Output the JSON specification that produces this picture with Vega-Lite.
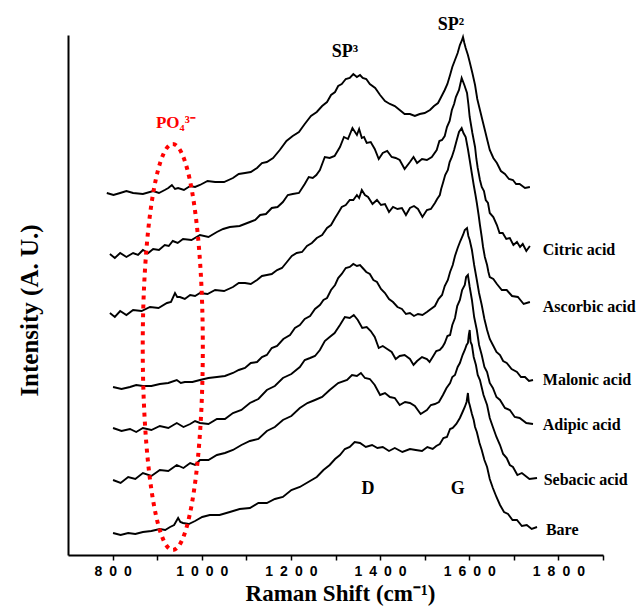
{
  "$schema": "https://vega.github.io/schema/vega-lite/v6.json",
  "autosize": "none",
  "width": 535,
  "height": 520,
  "padding": {"left": 68, "top": 35, "right": 38, "bottom": 51},
  "background": "white",
  "config": {"view": {"stroke": null}},
  "datasets": {
    "spectra": [
      {"curve":"Top","shift":787,"y":362},{"curve":"Top","shift":802,"y":360},{"curve":"Top","shift":817,"y":362},{"curve":"Top","shift":831,"y":364},{"curve":"Top","shift":846,"y":362},{"curve":"Top","shift":868,"y":361},{"curve":"Top","shift":891,"y":364},{"curve":"Top","shift":904,"y":362},{"curve":"Top","shift":917,"y":365},{"curve":"Top","shift":925,"y":367},{"curve":"Top","shift":933,"y":370},{"curve":"Top","shift":940,"y":366},{"curve":"Top","shift":947,"y":367},{"curve":"Top","shift":960,"y":365},{"curve":"Top","shift":974,"y":369},{"curve":"Top","shift":985,"y":368},{"curve":"Top","shift":996,"y":370},{"curve":"Top","shift":1013,"y":374},{"curve":"Top","shift":1030,"y":373},{"curve":"Top","shift":1050,"y":373},{"curve":"Top","shift":1070,"y":377},{"curve":"Top","shift":1083,"y":381},{"curve":"Top","shift":1097,"y":382},{"curve":"Top","shift":1110,"y":383},{"curve":"Top","shift":1124,"y":387},{"curve":"Top","shift":1135,"y":392},{"curve":"Top","shift":1146,"y":393},{"curve":"Top","shift":1160,"y":397},{"curve":"Top","shift":1175,"y":405},{"curve":"Top","shift":1190,"y":414},{"curve":"Top","shift":1204,"y":419},{"curve":"Top","shift":1218,"y":423},{"curve":"Top","shift":1231,"y":431},{"curve":"Top","shift":1245,"y":439},{"curve":"Top","shift":1258,"y":443},{"curve":"Top","shift":1270,"y":449},{"curve":"Top","shift":1281,"y":453},{"curve":"Top","shift":1290,"y":460},{"curve":"Top","shift":1299,"y":463},{"curve":"Top","shift":1306,"y":469},{"curve":"Top","shift":1314,"y":471},{"curve":"Top","shift":1323,"y":476},{"curve":"Top","shift":1332,"y":477},{"curve":"Top","shift":1340,"y":481},{"curve":"Top","shift":1348,"y":478},{"curve":"Top","shift":1355,"y":480},{"curve":"Top","shift":1361,"y":477},{"curve":"Top","shift":1369,"y":476},{"curve":"Top","shift":1377,"y":471},{"curve":"Top","shift":1389,"y":467},{"curve":"Top","shift":1400,"y":460},{"curve":"Top","shift":1411,"y":454},{"curve":"Top","shift":1422,"y":451},{"curve":"Top","shift":1433,"y":449},{"curve":"Top","shift":1444,"y":445},{"curve":"Top","shift":1455,"y":441},{"curve":"Top","shift":1467,"y":441},{"curve":"Top","shift":1478,"y":439},{"curve":"Top","shift":1489,"y":441},{"curve":"Top","shift":1500,"y":442},{"curve":"Top","shift":1512,"y":445},{"curve":"Top","shift":1521,"y":449},{"curve":"Top","shift":1530,"y":452},{"curve":"Top","shift":1537,"y":458},{"curve":"Top","shift":1545,"y":465},{"curve":"Top","shift":1551,"y":471},{"curve":"Top","shift":1557,"y":480},{"curve":"Top","shift":1562,"y":488},{"curve":"Top","shift":1568,"y":495},{"curve":"Top","shift":1574,"y":502},{"curve":"Top","shift":1579,"y":510},{"curve":"Top","shift":1583,"y":514},{"curve":"Top","shift":1586,"y":518},{"curve":"Top","shift":1589,"y":512},{"curve":"Top","shift":1592,"y":507},{"curve":"Top","shift":1597,"y":500},{"curve":"Top","shift":1601,"y":493},{"curve":"Top","shift":1607,"y":482},{"curve":"Top","shift":1613,"y":470},{"curve":"Top","shift":1618,"y":456},{"curve":"Top","shift":1624,"y":445},{"curve":"Top","shift":1630,"y":434},{"curve":"Top","shift":1635,"y":425},{"curve":"Top","shift":1641,"y":414},{"curve":"Top","shift":1646,"y":405},{"curve":"Top","shift":1654,"y":397},{"curve":"Top","shift":1662,"y":392},{"curve":"Top","shift":1671,"y":384},{"curve":"Top","shift":1680,"y":381},{"curve":"Top","shift":1689,"y":376},{"curve":"Top","shift":1698,"y":375},{"curve":"Top","shift":1705,"y":371},{"curve":"Top","shift":1713,"y":371},{"curve":"Top","shift":1725,"y":367},{"curve":"Top","shift":1736,"y":368},

      {"curve":"Citric","shift":794,"y":301},{"curve":"Citric","shift":805,"y":297},{"curve":"Citric","shift":817,"y":302},{"curve":"Citric","shift":831,"y":298},{"curve":"Citric","shift":846,"y":302},{"curve":"Citric","shift":857,"y":300},{"curve":"Citric","shift":868,"y":305},{"curve":"Citric","shift":880,"y":302},{"curve":"Citric","shift":891,"y":306},{"curve":"Citric","shift":904,"y":305},{"curve":"Citric","shift":917,"y":310},{"curve":"Citric","shift":926,"y":309},{"curve":"Citric","shift":935,"y":314},{"curve":"Citric","shift":946,"y":312},{"curve":"Citric","shift":958,"y":316},{"curve":"Citric","shift":977,"y":315},{"curve":"Citric","shift":996,"y":320},{"curve":"Citric","shift":1015,"y":318},{"curve":"Citric","shift":1034,"y":323},{"curve":"Citric","shift":1048,"y":326},{"curve":"Citric","shift":1063,"y":328},{"curve":"Citric","shift":1085,"y":329},{"curve":"Citric","shift":1108,"y":333},{"curve":"Citric","shift":1120,"y":335},{"curve":"Citric","shift":1131,"y":340},{"curve":"Citric","shift":1144,"y":341},{"curve":"Citric","shift":1157,"y":347},{"curve":"Citric","shift":1170,"y":348},{"curve":"Citric","shift":1182,"y":353},{"curve":"Citric","shift":1193,"y":360},{"curve":"Citric","shift":1204,"y":361},{"curve":"Citric","shift":1218,"y":362},{"curve":"Citric","shift":1231,"y":371},{"curve":"Citric","shift":1240,"y":378},{"curve":"Citric","shift":1249,"y":377},{"curve":"Citric","shift":1257,"y":380},{"curve":"Citric","shift":1265,"y":385},{"curve":"Citric","shift":1276,"y":398},{"curve":"Citric","shift":1287,"y":397},{"curve":"Citric","shift":1298,"y":399},{"curve":"Citric","shift":1310,"y":408},{"curve":"Citric","shift":1319,"y":418},{"curve":"Citric","shift":1328,"y":416},{"curve":"Citric","shift":1338,"y":427},{"curve":"Citric","shift":1348,"y":420},{"curve":"Citric","shift":1353,"y":426},{"curve":"Citric","shift":1359,"y":417},{"curve":"Citric","shift":1364,"y":418},{"curve":"Citric","shift":1370,"y":412},{"curve":"Citric","shift":1379,"y":413},{"curve":"Citric","shift":1388,"y":406},{"curve":"Citric","shift":1397,"y":396},{"curve":"Citric","shift":1406,"y":402},{"curve":"Citric","shift":1416,"y":404},{"curve":"Citric","shift":1426,"y":398},{"curve":"Citric","shift":1435,"y":397},{"curve":"Citric","shift":1444,"y":395},{"curve":"Citric","shift":1455,"y":386},{"curve":"Citric","shift":1467,"y":393},{"curve":"Citric","shift":1475,"y":398},{"curve":"Citric","shift":1483,"y":392},{"curve":"Citric","shift":1494,"y":396},{"curve":"Citric","shift":1505,"y":395},{"curve":"Citric","shift":1516,"y":398},{"curve":"Citric","shift":1527,"y":405},{"curve":"Citric","shift":1533,"y":414},{"curve":"Citric","shift":1539,"y":415},{"curve":"Citric","shift":1545,"y":419},{"curve":"Citric","shift":1550,"y":428},{"curve":"Citric","shift":1556,"y":434},{"curve":"Citric","shift":1561,"y":445},{"curve":"Citric","shift":1566,"y":451},{"curve":"Citric","shift":1570,"y":458},{"curve":"Citric","shift":1577,"y":465},{"curve":"Citric","shift":1583,"y":477},{"curve":"Citric","shift":1589,"y":470},{"curve":"Citric","shift":1595,"y":462},{"curve":"Citric","shift":1598,"y":451},{"curve":"Citric","shift":1601,"y":438},{"curve":"Citric","shift":1607,"y":422},{"curve":"Citric","shift":1613,"y":408},{"curve":"Citric","shift":1616,"y":396},{"curve":"Citric","shift":1619,"y":387},{"curve":"Citric","shift":1624,"y":375},{"curve":"Citric","shift":1628,"y":368},{"curve":"Citric","shift":1633,"y":364},{"curve":"Citric","shift":1637,"y":355},{"curve":"Citric","shift":1642,"y":352},{"curve":"Citric","shift":1646,"y":342},{"curve":"Citric","shift":1654,"y":338},{"curve":"Citric","shift":1662,"y":330},{"curve":"Citric","shift":1668,"y":322},{"curve":"Citric","shift":1675,"y":322},{"curve":"Citric","shift":1683,"y":316},{"curve":"Citric","shift":1691,"y":317},{"curve":"Citric","shift":1699,"y":310},{"curve":"Citric","shift":1707,"y":313},{"curve":"Citric","shift":1714,"y":308},{"curve":"Citric","shift":1720,"y":311},{"curve":"Citric","shift":1728,"y":304},{"curve":"Citric","shift":1736,"y":309},

      {"curve":"Ascorbic","shift":794,"y":242},{"curve":"Ascorbic","shift":805,"y":238},{"curve":"Ascorbic","shift":817,"y":244},{"curve":"Ascorbic","shift":831,"y":240},{"curve":"Ascorbic","shift":846,"y":245},{"curve":"Ascorbic","shift":865,"y":244},{"curve":"Ascorbic","shift":884,"y":248},{"curve":"Ascorbic","shift":903,"y":247},{"curve":"Ascorbic","shift":922,"y":252},{"curve":"Ascorbic","shift":931,"y":253},{"curve":"Ascorbic","shift":940,"y":262},{"curve":"Ascorbic","shift":945,"y":258},{"curve":"Ascorbic","shift":951,"y":258},{"curve":"Ascorbic","shift":962,"y":256},{"curve":"Ascorbic","shift":974,"y":260},{"curve":"Ascorbic","shift":985,"y":259},{"curve":"Ascorbic","shift":996,"y":262},{"curve":"Ascorbic","shift":1013,"y":261},{"curve":"Ascorbic","shift":1030,"y":265},{"curve":"Ascorbic","shift":1050,"y":264},{"curve":"Ascorbic","shift":1070,"y":268},{"curve":"Ascorbic","shift":1083,"y":272},{"curve":"Ascorbic","shift":1097,"y":272},{"curve":"Ascorbic","shift":1110,"y":271},{"curve":"Ascorbic","shift":1124,"y":275},{"curve":"Ascorbic","shift":1135,"y":279},{"curve":"Ascorbic","shift":1146,"y":280},{"curve":"Ascorbic","shift":1157,"y":281},{"curve":"Ascorbic","shift":1169,"y":285},{"curve":"Ascorbic","shift":1180,"y":287},{"curve":"Ascorbic","shift":1191,"y":293},{"curve":"Ascorbic","shift":1202,"y":299},{"curve":"Ascorbic","shift":1213,"y":302},{"curve":"Ascorbic","shift":1225,"y":303},{"curve":"Ascorbic","shift":1236,"y":309},{"curve":"Ascorbic","shift":1247,"y":312},{"curve":"Ascorbic","shift":1258,"y":317},{"curve":"Ascorbic","shift":1270,"y":320},{"curve":"Ascorbic","shift":1281,"y":327},{"curve":"Ascorbic","shift":1290,"y":330},{"curve":"Ascorbic","shift":1299,"y":337},{"curve":"Ascorbic","shift":1306,"y":342},{"curve":"Ascorbic","shift":1314,"y":348},{"curve":"Ascorbic","shift":1323,"y":350},{"curve":"Ascorbic","shift":1332,"y":355},{"curve":"Ascorbic","shift":1340,"y":355},{"curve":"Ascorbic","shift":1348,"y":360},{"curve":"Ascorbic","shift":1353,"y":357},{"curve":"Ascorbic","shift":1359,"y":365},{"curve":"Ascorbic","shift":1366,"y":360},{"curve":"Ascorbic","shift":1373,"y":358},{"curve":"Ascorbic","shift":1383,"y":351},{"curve":"Ascorbic","shift":1393,"y":355},{"curve":"Ascorbic","shift":1402,"y":350},{"curve":"Ascorbic","shift":1411,"y":351},{"curve":"Ascorbic","shift":1420,"y":343},{"curve":"Ascorbic","shift":1429,"y":348},{"curve":"Ascorbic","shift":1439,"y":346},{"curve":"Ascorbic","shift":1449,"y":347},{"curve":"Ascorbic","shift":1458,"y":340},{"curve":"Ascorbic","shift":1467,"y":347},{"curve":"Ascorbic","shift":1476,"y":349},{"curve":"Ascorbic","shift":1485,"y":346},{"curve":"Ascorbic","shift":1495,"y":338},{"curve":"Ascorbic","shift":1505,"y":345},{"curve":"Ascorbic","shift":1514,"y":346},{"curve":"Ascorbic","shift":1523,"y":352},{"curve":"Ascorbic","shift":1528,"y":356},{"curve":"Ascorbic","shift":1534,"y":360},{"curve":"Ascorbic","shift":1537,"y":366},{"curve":"Ascorbic","shift":1541,"y":372},{"curve":"Ascorbic","shift":1546,"y":380},{"curve":"Ascorbic","shift":1552,"y":385},{"curve":"Ascorbic","shift":1556,"y":393},{"curve":"Ascorbic","shift":1561,"y":398},{"curve":"Ascorbic","shift":1566,"y":405},{"curve":"Ascorbic","shift":1572,"y":415},{"curve":"Ascorbic","shift":1577,"y":423},{"curve":"Ascorbic","shift":1583,"y":427},{"curve":"Ascorbic","shift":1587,"y":422},{"curve":"Ascorbic","shift":1592,"y":418},{"curve":"Ascorbic","shift":1597,"y":406},{"curve":"Ascorbic","shift":1601,"y":395},{"curve":"Ascorbic","shift":1606,"y":381},{"curve":"Ascorbic","shift":1610,"y":370},{"curve":"Ascorbic","shift":1614,"y":360},{"curve":"Ascorbic","shift":1617,"y":352},{"curve":"Ascorbic","shift":1621,"y":340},{"curve":"Ascorbic","shift":1624,"y":330},{"curve":"Ascorbic","shift":1628,"y":318},{"curve":"Ascorbic","shift":1631,"y":308},{"curve":"Ascorbic","shift":1635,"y":298},{"curve":"Ascorbic","shift":1640,"y":290},{"curve":"Ascorbic","shift":1643,"y":283},{"curve":"Ascorbic","shift":1646,"y":278},{"curve":"Ascorbic","shift":1654,"y":276},{"curve":"Ascorbic","shift":1662,"y":271},{"curve":"Ascorbic","shift":1673,"y":265},{"curve":"Ascorbic","shift":1684,"y":265},{"curve":"Ascorbic","shift":1696,"y":259},{"curve":"Ascorbic","shift":1709,"y":258},{"curve":"Ascorbic","shift":1722,"y":251},{"curve":"Ascorbic","shift":1736,"y":253},

      {"curve":"Malonic","shift":801,"y":168},{"curve":"Malonic","shift":820,"y":166},{"curve":"Malonic","shift":839,"y":168},{"curve":"Malonic","shift":853,"y":170},{"curve":"Malonic","shift":868,"y":169},{"curve":"Malonic","shift":887,"y":169},{"curve":"Malonic","shift":906,"y":171},{"curve":"Malonic","shift":925,"y":172},{"curve":"Malonic","shift":944,"y":175},{"curve":"Malonic","shift":953,"y":172},{"curve":"Malonic","shift":962,"y":173},{"curve":"Malonic","shift":979,"y":173},{"curve":"Malonic","shift":996,"y":175},{"curve":"Malonic","shift":1015,"y":177},{"curve":"Malonic","shift":1034,"y":178},{"curve":"Malonic","shift":1052,"y":179},{"curve":"Malonic","shift":1070,"y":182},{"curve":"Malonic","shift":1083,"y":185},{"curve":"Malonic","shift":1097,"y":187},{"curve":"Malonic","shift":1110,"y":192},{"curve":"Malonic","shift":1124,"y":193},{"curve":"Malonic","shift":1135,"y":198},{"curve":"Malonic","shift":1146,"y":200},{"curve":"Malonic","shift":1157,"y":207},{"curve":"Malonic","shift":1169,"y":209},{"curve":"Malonic","shift":1183,"y":216},{"curve":"Malonic","shift":1198,"y":220},{"curve":"Malonic","shift":1209,"y":227},{"curve":"Malonic","shift":1220,"y":230},{"curve":"Malonic","shift":1231,"y":236},{"curve":"Malonic","shift":1243,"y":239},{"curve":"Malonic","shift":1254,"y":246},{"curve":"Malonic","shift":1265,"y":250},{"curve":"Malonic","shift":1273,"y":255},{"curve":"Malonic","shift":1281,"y":257},{"curve":"Malonic","shift":1290,"y":265},{"curve":"Malonic","shift":1299,"y":270},{"curve":"Malonic","shift":1306,"y":277},{"curve":"Malonic","shift":1314,"y":281},{"curve":"Malonic","shift":1323,"y":287},{"curve":"Malonic","shift":1332,"y":288},{"curve":"Malonic","shift":1340,"y":291},{"curve":"Malonic","shift":1348,"y":289},{"curve":"Malonic","shift":1355,"y":290},{"curve":"Malonic","shift":1361,"y":287},{"curve":"Malonic","shift":1369,"y":283},{"curve":"Malonic","shift":1377,"y":281},{"curve":"Malonic","shift":1385,"y":275},{"curve":"Malonic","shift":1393,"y":273},{"curve":"Malonic","shift":1402,"y":266},{"curve":"Malonic","shift":1411,"y":262},{"curve":"Malonic","shift":1420,"y":256},{"curve":"Malonic","shift":1429,"y":253},{"curve":"Malonic","shift":1439,"y":248},{"curve":"Malonic","shift":1449,"y":246},{"curve":"Malonic","shift":1458,"y":241},{"curve":"Malonic","shift":1467,"y":242},{"curve":"Malonic","shift":1476,"y":239},{"curve":"Malonic","shift":1485,"y":241},{"curve":"Malonic","shift":1495,"y":240},{"curve":"Malonic","shift":1505,"y":243},{"curve":"Malonic","shift":1514,"y":246},{"curve":"Malonic","shift":1523,"y":249},{"curve":"Malonic","shift":1531,"y":256},{"curve":"Malonic","shift":1539,"y":260},{"curve":"Malonic","shift":1545,"y":269},{"curve":"Malonic","shift":1552,"y":275},{"curve":"Malonic","shift":1557,"y":283},{"curve":"Malonic","shift":1563,"y":290},{"curve":"Malonic","shift":1568,"y":299},{"curve":"Malonic","shift":1574,"y":307},{"curve":"Malonic","shift":1580,"y":314},{"curve":"Malonic","shift":1586,"y":320},{"curve":"Malonic","shift":1590,"y":325},{"curve":"Malonic","shift":1595,"y":327},{"curve":"Malonic","shift":1598,"y":319},{"curve":"Malonic","shift":1601,"y":315},{"curve":"Malonic","shift":1606,"y":305},{"curve":"Malonic","shift":1611,"y":290},{"curve":"Malonic","shift":1617,"y":275},{"curve":"Malonic","shift":1622,"y":262},{"curve":"Malonic","shift":1628,"y":250},{"curve":"Malonic","shift":1634,"y":236},{"curve":"Malonic","shift":1640,"y":225},{"curve":"Malonic","shift":1646,"y":216},{"curve":"Malonic","shift":1653,"y":210},{"curve":"Malonic","shift":1661,"y":203},{"curve":"Malonic","shift":1669,"y":200},{"curve":"Malonic","shift":1676,"y":194},{"curve":"Malonic","shift":1684,"y":192},{"curve":"Malonic","shift":1695,"y":186},{"curve":"Malonic","shift":1707,"y":183},{"curve":"Malonic","shift":1716,"y":178},{"curve":"Malonic","shift":1725,"y":178},{"curve":"Malonic","shift":1734,"y":174},{"curve":"Malonic","shift":1743,"y":175},

      {"curve":"Adipic","shift":801,"y":127},{"curve":"Adipic","shift":820,"y":124},{"curve":"Adipic","shift":839,"y":126},{"curve":"Adipic","shift":853,"y":123},{"curve":"Adipic","shift":868,"y":127},{"curve":"Adipic","shift":887,"y":125},{"curve":"Adipic","shift":906,"y":129},{"curve":"Adipic","shift":925,"y":127},{"curve":"Adipic","shift":944,"y":132},{"curve":"Adipic","shift":959,"y":128},{"curve":"Adipic","shift":974,"y":131},{"curve":"Adipic","shift":985,"y":134},{"curve":"Adipic","shift":996,"y":132},{"curve":"Adipic","shift":1015,"y":131},{"curve":"Adipic","shift":1034,"y":136},{"curve":"Adipic","shift":1052,"y":136},{"curve":"Adipic","shift":1070,"y":142},{"curve":"Adipic","shift":1089,"y":145},{"curve":"Adipic","shift":1108,"y":152},{"curve":"Adipic","shift":1127,"y":156},{"curve":"Adipic","shift":1146,"y":165},{"curve":"Adipic","shift":1164,"y":169},{"curve":"Adipic","shift":1182,"y":177},{"curve":"Adipic","shift":1201,"y":181},{"curve":"Adipic","shift":1220,"y":188},{"curve":"Adipic","shift":1231,"y":195},{"curve":"Adipic","shift":1243,"y":197},{"curve":"Adipic","shift":1254,"y":199},{"curve":"Adipic","shift":1265,"y":205},{"curve":"Adipic","shift":1276,"y":214},{"curve":"Adipic","shift":1287,"y":218},{"curve":"Adipic","shift":1298,"y":222},{"curve":"Adipic","shift":1310,"y":230},{"curve":"Adipic","shift":1321,"y":238},{"curve":"Adipic","shift":1332,"y":237},{"curve":"Adipic","shift":1341,"y":240},{"curve":"Adipic","shift":1350,"y":235},{"curve":"Adipic","shift":1360,"y":227},{"curve":"Adipic","shift":1370,"y":228},{"curve":"Adipic","shift":1379,"y":224},{"curve":"Adipic","shift":1388,"y":218},{"curve":"Adipic","shift":1397,"y":207},{"curve":"Adipic","shift":1406,"y":209},{"curve":"Adipic","shift":1416,"y":206},{"curve":"Adipic","shift":1426,"y":203},{"curve":"Adipic","shift":1435,"y":196},{"curve":"Adipic","shift":1444,"y":199},{"curve":"Adipic","shift":1455,"y":200},{"curve":"Adipic","shift":1467,"y":196},{"curve":"Adipic","shift":1475,"y":190},{"curve":"Adipic","shift":1483,"y":194},{"curve":"Adipic","shift":1494,"y":198},{"curve":"Adipic","shift":1505,"y":196},{"curve":"Adipic","shift":1511,"y":193},{"curve":"Adipic","shift":1518,"y":198},{"curve":"Adipic","shift":1526,"y":204},{"curve":"Adipic","shift":1534,"y":205},{"curve":"Adipic","shift":1540,"y":208},{"curve":"Adipic","shift":1545,"y":212},{"curve":"Adipic","shift":1551,"y":219},{"curve":"Adipic","shift":1557,"y":220},{"curve":"Adipic","shift":1562,"y":230},{"curve":"Adipic","shift":1568,"y":237},{"curve":"Adipic","shift":1573,"y":249},{"curve":"Adipic","shift":1579,"y":255},{"curve":"Adipic","shift":1584,"y":265},{"curve":"Adipic","shift":1590,"y":270},{"curve":"Adipic","shift":1593,"y":278},{"curve":"Adipic","shift":1597,"y":280},{"curve":"Adipic","shift":1601,"y":268},{"curve":"Adipic","shift":1606,"y":255},{"curve":"Adipic","shift":1611,"y":238},{"curve":"Adipic","shift":1617,"y":225},{"curve":"Adipic","shift":1622,"y":210},{"curve":"Adipic","shift":1628,"y":200},{"curve":"Adipic","shift":1634,"y":188},{"curve":"Adipic","shift":1640,"y":183},{"curve":"Adipic","shift":1646,"y":172},{"curve":"Adipic","shift":1653,"y":167},{"curve":"Adipic","shift":1661,"y":158},{"curve":"Adipic","shift":1669,"y":155},{"curve":"Adipic","shift":1680,"y":147},{"curve":"Adipic","shift":1691,"y":145},{"curve":"Adipic","shift":1702,"y":138},{"curve":"Adipic","shift":1713,"y":137},{"curve":"Adipic","shift":1728,"y":132},{"curve":"Adipic","shift":1743,"y":131},

      {"curve":"Sebacic","shift":801,"y":75},{"curve":"Sebacic","shift":818,"y":72},{"curve":"Sebacic","shift":835,"y":78},{"curve":"Sebacic","shift":851,"y":76},{"curve":"Sebacic","shift":868,"y":82},{"curve":"Sebacic","shift":887,"y":79},{"curve":"Sebacic","shift":906,"y":85},{"curve":"Sebacic","shift":925,"y":84},{"curve":"Sebacic","shift":944,"y":90},{"curve":"Sebacic","shift":959,"y":87},{"curve":"Sebacic","shift":974,"y":92},{"curve":"Sebacic","shift":985,"y":90},{"curve":"Sebacic","shift":996,"y":95},{"curve":"Sebacic","shift":1015,"y":95},{"curve":"Sebacic","shift":1034,"y":100},{"curve":"Sebacic","shift":1052,"y":102},{"curve":"Sebacic","shift":1070,"y":105},{"curve":"Sebacic","shift":1089,"y":110},{"curve":"Sebacic","shift":1108,"y":114},{"curve":"Sebacic","shift":1127,"y":116},{"curve":"Sebacic","shift":1146,"y":124},{"curve":"Sebacic","shift":1164,"y":128},{"curve":"Sebacic","shift":1182,"y":135},{"curve":"Sebacic","shift":1201,"y":139},{"curve":"Sebacic","shift":1220,"y":147},{"curve":"Sebacic","shift":1237,"y":152},{"curve":"Sebacic","shift":1254,"y":155},{"curve":"Sebacic","shift":1270,"y":158},{"curve":"Sebacic","shift":1287,"y":165},{"curve":"Sebacic","shift":1306,"y":172},{"curve":"Sebacic","shift":1326,"y":175},{"curve":"Sebacic","shift":1337,"y":180},{"curve":"Sebacic","shift":1348,"y":179},{"curve":"Sebacic","shift":1357,"y":182},{"curve":"Sebacic","shift":1366,"y":177},{"curve":"Sebacic","shift":1377,"y":176},{"curve":"Sebacic","shift":1388,"y":170},{"curve":"Sebacic","shift":1400,"y":160},{"curve":"Sebacic","shift":1411,"y":162},{"curve":"Sebacic","shift":1422,"y":158},{"curve":"Sebacic","shift":1433,"y":157},{"curve":"Sebacic","shift":1444,"y":150},{"curve":"Sebacic","shift":1456,"y":153},{"curve":"Sebacic","shift":1467,"y":152},{"curve":"Sebacic","shift":1478,"y":149},{"curve":"Sebacic","shift":1491,"y":141},{"curve":"Sebacic","shift":1505,"y":145},{"curve":"Sebacic","shift":1514,"y":150},{"curve":"Sebacic","shift":1523,"y":151},{"curve":"Sebacic","shift":1532,"y":153},{"curve":"Sebacic","shift":1541,"y":160},{"curve":"Sebacic","shift":1549,"y":167},{"curve":"Sebacic","shift":1557,"y":172},{"curve":"Sebacic","shift":1562,"y":178},{"curve":"Sebacic","shift":1568,"y":180},{"curve":"Sebacic","shift":1574,"y":188},{"curve":"Sebacic","shift":1579,"y":192},{"curve":"Sebacic","shift":1585,"y":200},{"curve":"Sebacic","shift":1590,"y":205},{"curve":"Sebacic","shift":1594,"y":210},{"curve":"Sebacic","shift":1597,"y":212},{"curve":"Sebacic","shift":1599,"y":220},{"curve":"Sebacic","shift":1601,"y":225},{"curve":"Sebacic","shift":1603,"y":213},{"curve":"Sebacic","shift":1606,"y":210},{"curve":"Sebacic","shift":1610,"y":198},{"curve":"Sebacic","shift":1615,"y":190},{"curve":"Sebacic","shift":1619,"y":180},{"curve":"Sebacic","shift":1624,"y":175},{"curve":"Sebacic","shift":1632,"y":160},{"curve":"Sebacic","shift":1640,"y":150},{"curve":"Sebacic","shift":1646,"y":137},{"curve":"Sebacic","shift":1653,"y":128},{"curve":"Sebacic","shift":1661,"y":118},{"curve":"Sebacic","shift":1669,"y":110},{"curve":"Sebacic","shift":1676,"y":101},{"curve":"Sebacic","shift":1684,"y":97},{"curve":"Sebacic","shift":1691,"y":90},{"curve":"Sebacic","shift":1698,"y":88},{"curve":"Sebacic","shift":1708,"y":80},{"curve":"Sebacic","shift":1718,"y":82},{"curve":"Sebacic","shift":1735,"y":76},{"curve":"Sebacic","shift":1752,"y":77},

      {"curve":"Bare","shift":801,"y":22},{"curve":"Bare","shift":818,"y":20},{"curve":"Bare","shift":835,"y":22},{"curve":"Bare","shift":851,"y":21},{"curve":"Bare","shift":868,"y":23},{"curve":"Bare","shift":887,"y":24},{"curve":"Bare","shift":906,"y":26},{"curve":"Bare","shift":918,"y":25},{"curve":"Bare","shift":929,"y":28},{"curve":"Bare","shift":938,"y":30},{"curve":"Bare","shift":947,"y":37},{"curve":"Bare","shift":952,"y":33},{"curve":"Bare","shift":958,"y":32},{"curve":"Bare","shift":971,"y":31},{"curve":"Bare","shift":985,"y":34},{"curve":"Bare","shift":1001,"y":38},{"curve":"Bare","shift":1018,"y":40},{"curve":"Bare","shift":1040,"y":40},{"curve":"Bare","shift":1063,"y":43},{"curve":"Bare","shift":1085,"y":46},{"curve":"Bare","shift":1108,"y":47},{"curve":"Bare","shift":1127,"y":52},{"curve":"Bare","shift":1146,"y":52},{"curve":"Bare","shift":1164,"y":56},{"curve":"Bare","shift":1182,"y":58},{"curve":"Bare","shift":1201,"y":65},{"curve":"Bare","shift":1220,"y":68},{"curve":"Bare","shift":1239,"y":73},{"curve":"Bare","shift":1258,"y":78},{"curve":"Bare","shift":1273,"y":85},{"curve":"Bare","shift":1287,"y":90},{"curve":"Bare","shift":1299,"y":96},{"curve":"Bare","shift":1310,"y":100},{"curve":"Bare","shift":1321,"y":106},{"curve":"Bare","shift":1332,"y":108},{"curve":"Bare","shift":1343,"y":113},{"curve":"Bare","shift":1355,"y":112},{"curve":"Bare","shift":1368,"y":108},{"curve":"Bare","shift":1382,"y":110},{"curve":"Bare","shift":1394,"y":107},{"curve":"Bare","shift":1406,"y":108},{"curve":"Bare","shift":1420,"y":104},{"curve":"Bare","shift":1433,"y":107},{"curve":"Bare","shift":1450,"y":103},{"curve":"Bare","shift":1467,"y":106},{"curve":"Bare","shift":1480,"y":105},{"curve":"Bare","shift":1494,"y":104},{"curve":"Bare","shift":1506,"y":108},{"curve":"Bare","shift":1518,"y":106},{"curve":"Bare","shift":1526,"y":109},{"curve":"Bare","shift":1534,"y":111},{"curve":"Bare","shift":1542,"y":117},{"curve":"Bare","shift":1550,"y":118},{"curve":"Bare","shift":1557,"y":126},{"curve":"Bare","shift":1563,"y":127},{"curve":"Bare","shift":1571,"y":131},{"curve":"Bare","shift":1579,"y":137},{"curve":"Bare","shift":1585,"y":143},{"curve":"Bare","shift":1590,"y":148},{"curve":"Bare","shift":1594,"y":153},{"curve":"Bare","shift":1597,"y":162},{"curve":"Bare","shift":1599,"y":153},{"curve":"Bare","shift":1601,"y":150},{"curve":"Bare","shift":1606,"y":141},{"curve":"Bare","shift":1610,"y":135},{"curve":"Bare","shift":1613,"y":128},{"curve":"Bare","shift":1617,"y":123},{"curve":"Bare","shift":1623,"y":112},{"curve":"Bare","shift":1628,"y":105},{"curve":"Bare","shift":1634,"y":95},{"curve":"Bare","shift":1640,"y":88},{"curve":"Bare","shift":1646,"y":76},{"curve":"Bare","shift":1653,"y":67},{"curve":"Bare","shift":1661,"y":58},{"curve":"Bare","shift":1669,"y":50},{"curve":"Bare","shift":1678,"y":43},{"curve":"Bare","shift":1687,"y":41},{"curve":"Bare","shift":1697,"y":35},{"curve":"Bare","shift":1707,"y":35},{"curve":"Bare","shift":1718,"y":29},{"curve":"Bare","shift":1729,"y":30},{"curve":"Bare","shift":1740,"y":26},{"curve":"Bare","shift":1752,"y":28}
    ],
    "samples": [
      {"name":"Citric acid","shift":1765,"y":305},
      {"name":"Ascorbic acid","shift":1765,"y":248},
      {"name":"Malonic acid","shift":1765,"y":175},
      {"name":"Adipic acid","shift":1765,"y":130},
      {"name":"Sebacic acid","shift":1767,"y":75},
      {"name":"Bare","shift":1772,"y":25}
    ],
    "bands": [
      {"name":"SP³","shift":1321,"y":503},
      {"name":"SP²","shift":1559,"y":530},
      {"name":"D","shift":1373,"y":66},
      {"name":"G","shift":1574,"y":66}
    ],
    "phosphate": [
      {"name":"PO₄³⁻","shift":942,"y":432}
    ],
    "region": [
      {"shift":935,"y":208}
    ]
  },
  "layer": [
    {
      "data": {"name": "spectra"},
      "mark": {"type": "line", "color": "black", "strokeWidth": 1.9, "interpolate": "linear"},
      "encoding": {
        "x": {
          "field": "shift", "type": "quantitative",
          "scale": {"domain": [700, 1900], "nice": false, "zero": false},
          "axis": {
            "title": "Raman Shift (cm⁻¹)",
            "titleFont": "Liberation Serif", "titleFontSize": 23, "titleFontWeight": "bold", "titleColor": "black",
            "titleBaseline": "alphabetic", "titleY": 45, "titleX": 272,
            "values": [800, 900, 1000, 1100, 1200, 1300, 1400, 1500, 1600, 1700, 1800, 1900],
            "labelExpr": "(datum.value % 200 == 0 && datum.value < 1900) ? join(split(toString(datum.value), ''), '\u2002') : ''",
            "labelFont": "Liberation Sans", "labelFontSize": 14, "labelFontWeight": "bold", "labelColor": "black",
            "labelPadding": 4,
            "domainColor": "black", "domainWidth": 2,
            "tickColor": "black", "tickWidth": 1.5, "tickSize": 5,
            "grid": false
          }
        },
        "y": {
          "field": "y", "type": "quantitative",
          "scale": {"domain": [0, 520], "nice": false, "zero": false},
          "axis": {
            "title": "Intensity (A. U.)",
            "titleFont": "Liberation Serif", "titleFontSize": 25, "titleFontWeight": "bold", "titleColor": "black",
            "titleAngle": -90, "titleAlign": "center", "titleBaseline": "middle",
            "titleX": -39, "titleY": 275,
            "labels": false, "ticks": false, "grid": false,
            "domainColor": "black", "domainWidth": 2
          }
        },
        "detail": {"field": "curve", "type": "nominal"}
      }
    },
    {
      "data": {"name": "region"},
      "mark": {
        "type": "point",
        "shape": "M0,-1 A0.148,1 0 1,1 0,1 A0.148,1 0 1,1 0,-1 Z",
        "size": 164836,
        "filled": false,
        "stroke": "#ff0000",
        "strokeWidth": 4,
        "strokeDash": [4, 5],
        "opacity": 1
      },
      "encoding": {
        "x": {"field": "shift", "type": "quantitative"},
        "y": {"field": "y", "type": "quantitative"}
      }
    },
    {
      "data": {"name": "samples"},
      "mark": {"type": "text", "font": "Liberation Serif", "fontWeight": "bold", "fontSize": 16, "align": "left", "baseline": "middle", "color": "black"},
      "encoding": {
        "x": {"field": "shift", "type": "quantitative"},
        "y": {"field": "y", "type": "quantitative"},
        "text": {"field": "name"}
      }
    },
    {
      "data": {"name": "bands"},
      "mark": {"type": "text", "font": "Liberation Serif", "fontWeight": "bold", "fontSize": 18, "align": "center", "baseline": "middle", "color": "black"},
      "encoding": {
        "x": {"field": "shift", "type": "quantitative"},
        "y": {"field": "y", "type": "quantitative"},
        "text": {"field": "name"}
      }
    },
    {
      "data": {"name": "phosphate"},
      "mark": {"type": "text", "font": "Liberation Serif", "fontWeight": "bold", "fontSize": 17, "align": "center", "baseline": "middle", "color": "#ff0000"},
      "encoding": {
        "x": {"field": "shift", "type": "quantitative"},
        "y": {"field": "y", "type": "quantitative"},
        "text": {"field": "name"}
      }
    }
  ]
}
